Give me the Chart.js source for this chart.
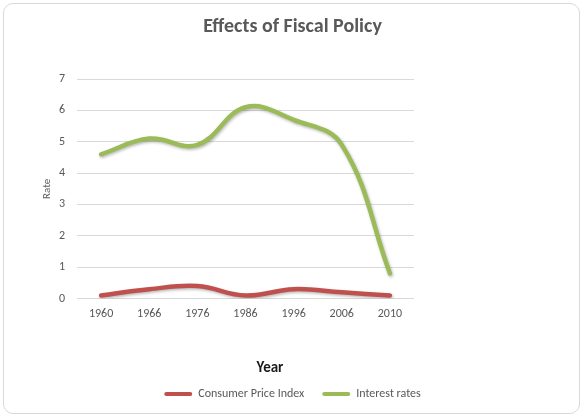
<!DOCTYPE html>
<html>
<head>
<meta charset="utf-8">
<script src="https://cdn.jsdelivr.net/npm/chart.js@4"></script>
<style>
  html, body { margin: 0; padding: 0; background: #fff; }
  #wrap { position: relative; width: 585px; height: 418px; }
  #c { position: absolute; left: 0; top: 0; }
  #frame { position: absolute; left: 3px; top: 3px; width: 577px; height: 411px; box-sizing: border-box;
           border: 1px solid #d9d9d9; border-radius: 10px; pointer-events: none; }
</style>
</head>
<body>
<div id="wrap">
  <canvas id="c" width="585" height="418"></canvas>
  <div id="frame"></div>
</div>
<script>
const years = ['1960', '1966', '1976', '1986', '1996', '2006', '2010'];
const consumerPriceIndex = [0.1, 0.3, 0.4, 0.1, 0.3, 0.2, 0.1];
const interestRates = [4.6, 5.1, 4.9, 6.1, 5.7, 4.9, 0.8];
const yTicks = [0, 1, 2, 3, 4, 5, 6, 7];
const chartTitle = 'Effects of Fiscal Policy';
const xTitle = 'Year';
const yTitle = 'Rate';

const FONT = 'Calibri, Carlito, Lato, sans-serif';
const GRAY = '#595959';

const shadowPlugin = {
  id: 'lineShadow',
  beforeDatasetDraw(chart) {
    const ctx = chart.ctx;
    ctx.save();
    ctx.shadowColor = 'rgba(0,0,0,0.28)';
    ctx.shadowBlur = 3;
    ctx.shadowOffsetX = 1;
    ctx.shadowOffsetY = 1.5;
  },
  afterDatasetDraw(chart) { chart.ctx.restore(); }
};

const xTitlePlugin = {
  id: 'xTitle',
  afterDraw(chart) {
    const ctx = chart.ctx, a = chart.chartArea;
    ctx.save();
    ctx.font = 'bold 15px ' + FONT;
    ctx.fillStyle = '#1a1a1a';
    ctx.textAlign = 'center';
    ctx.textBaseline = 'middle';
    ctx.fillText(xTitle, a.left + 193, a.bottom + 70);
    ctx.restore();
  }
};

new Chart(document.getElementById('c'), {
  type: 'line',
  data: {
    labels: years,
    datasets: [
      { label: 'Consumer Price Index', data: consumerPriceIndex, borderColor: '#C0504D', backgroundColor: '#C0504D',
        borderWidth: 4.5, tension: 0.4, pointRadius: 0, fill: false, borderCapStyle: 'round' },
      { label: 'Interest rates', data: interestRates, borderColor: '#9BBB59', backgroundColor: '#9BBB59',
        borderWidth: 4.5, tension: 0.4, pointRadius: 0, fill: false, borderCapStyle: 'round' }
    ]
  },
  options: {
    responsive: false,
    animation: false,
    devicePixelRatio: 1,
    layout: { padding: { left: 0, right: 0, top: 0, bottom: 8 } },
    plugins: {
      title: { display: true, text: chartTitle, color: GRAY,
               font: { family: FONT, size: 20, weight: 'bold' }, padding: { top: 15, bottom: 40 } },
      legend: {
        position: 'bottom',
        labels: {
          color: GRAY, font: { family: FONT, size: 12 }, boxWidth: 28, boxHeight: 4, padding: 18,
          useBorderRadius: true, borderRadius: 2,
          generateLabels: (chart) => Chart.defaults.plugins.legend.labels.generateLabels(chart)
            .map(l => Object.assign(l, { lineWidth: 0, fillStyle: l.strokeStyle }))
        }
      },
      tooltip: { enabled: false }
    },
    scales: {
      x: {
        offset: true,
        grid: { display: false, drawTicks: false },
        border: { display: false },
        ticks: { color: GRAY, font: { family: FONT, size: 12 }, padding: 8, maxRotation: 0 },
        afterFit: (s) => { s.height += 41; }
      },
      y: {
        min: 0, max: 7,
        afterBuildTicks: (s) => { s.ticks = yTicks.map(v => ({ value: v })); },
        grid: { color: '#D9D9D9', lineWidth: 1, drawTicks: false },
        border: { display: false },
        ticks: { color: GRAY, font: { family: FONT, size: 12 }, padding: 12 },
        title: { display: true, text: yTitle, color: GRAY, font: { family: FONT, size: 11 }, padding: { top: 41, bottom: 4 } },
        afterFit: (s) => { s.width = 77; }
      },
      yPad: {
        position: 'right', display: true,
        grid: { display: false, drawTicks: false }, border: { display: false },
        ticks: { display: false },
        afterFit: (s) => { s.width = 171; }
      }
    }
  },
  plugins: [shadowPlugin, xTitlePlugin]
});
</script>
</body>
</html>
